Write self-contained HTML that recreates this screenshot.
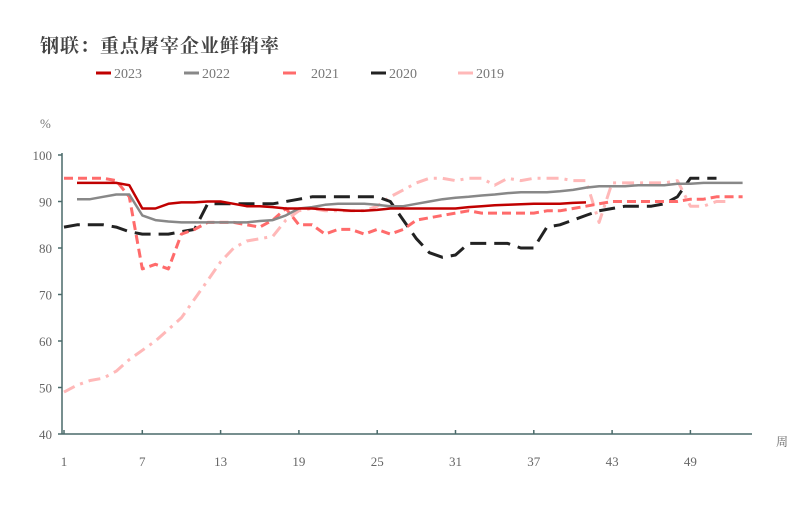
<!DOCTYPE html>
<html><head><meta charset="utf-8">
<style>
body{margin:0;background:#fff;width:800px;height:503px;overflow:hidden;font-family:"Liberation Serif","Noto Serif CJK SC",serif;}
svg text{font-family:"Liberation Serif","Noto Serif CJK SC",serif;}
</style></head><body>
<svg id="c" width="800" height="503" xmlns="http://www.w3.org/2000/svg">
<text x="40" y="52" font-size="19" font-weight="bold" fill="#444" font-family="Noto Serif CJK SC,serif" letter-spacing="1">钢联：重点屠宰企业鲜销率</text>
<g font-size="14" fill="#777">
<line x1="96" y1="73" x2="111" y2="73" stroke="#c00000" stroke-width="3"/><text x="114" y="78">2023</text>
<line x1="184" y1="73" x2="199" y2="73" stroke="#888" stroke-width="3"/><text x="202" y="78">2022</text>
<line x1="283" y1="73" x2="296" y2="73" stroke="#ff6b6b" stroke-width="3"/><text x="311" y="78">2021</text>
<line x1="371" y1="73" x2="386" y2="73" stroke="#222" stroke-width="3"/><text x="389" y="78">2020</text>
<line x1="458" y1="73" x2="473" y2="73" stroke="#ffb8b8" stroke-width="3"/><text x="476" y="78">2019</text>
</g>
<text x="40" y="128" font-size="13" fill="#777">%</text>
<g id="ax" stroke="#4a6a6a" stroke-width="1.5"></g>
<g id="lb" font-size="13" fill="#666"></g>
<g id="ln" fill="none"></g>
<text x="776" y="446" font-size="12" fill="#666" font-family="Noto Serif CJK SC,serif">周</text>
</svg>
<script>
const X=w=>64+(w-1)*13.05, Y=v=>155+(100-v)*4.65;
const ns="http://www.w3.org/2000/svg";
function el(p,t,a,txt){const e=document.createElementNS(ns,t);for(const k in a)e.setAttribute(k,a[k]);if(txt)e.textContent=txt;document.getElementById(p).appendChild(e);}
el("ax","line",{x1:62,y1:153,x2:62,y2:434});
el("ax","line",{x1:62,y1:434,x2:752,y2:434});
for(let v=40;v<=100;v+=10){el("ax","line",{x1:58,y1:Y(v),x2:62,y2:Y(v)});el("lb","text",{x:52,y:Y(v)+5,"text-anchor":"end"},""+v);}
for(let w=1;w<=53;w+=6){el("ax","line",{x1:X(w),y1:430,x2:X(w),y2:434});el("lb","text",{x:X(w),y:466,"text-anchor":"middle"},""+w);}
function s(start,d,col,wd,dash){let p="";d.forEach((v,i)=>{p+=(i?"L":"M")+X(start+i).toFixed(1)+","+Y(v).toFixed(1);});el("ln","path",{d:p,stroke:col,"stroke-width":wd,"stroke-dasharray":dash||"none","stroke-linejoin":"round"});}
s(1,[49,50.5,51.5,52,53.5,56,58,60,62.5,65,69,73,77,80,81.5,82,82.5,86,88,88.5,88,88,88,88,89,91,92.5,94,95,95,94.5,95,95,93.5,95,94.5,95,95,95,94.5,94.5,85.5,94,94,94,94,94,94.5,89,89,90,90],"#ffb8b8",3,"12,6,3,6");
s(1,[84.5,85,85,85,84.5,83.5,83,83,83,83.5,84,89.5,89.5,89.5,89.5,89.5,89.5,90,90.5,91,91,91,91,91,91,90,86,82,79,78,78.5,81,81,81,81,80,80,84.5,85,86,87,88,88.5,89,89,89,89.5,91,95,95,95],"#222",3,"16,8");
s(1,[95,95,95,95,94.5,91,75.5,76.5,75.5,83,84,85.5,85.5,85.5,85,84.5,86,88.5,85,85,83,84,84,83,84,83,84,86,86.5,87,87.5,88,87.5,87.5,87.5,87.5,87.5,88,88,88.5,89,89.5,90,90,90,90,90,90,90.5,90.5,91,91,91],"#ff6b6b",3,"9,5");
s(2,[90.5,90.5,91,91.5,91.5,87,86,85.7,85.5,85.5,85.5,85.5,85.5,85.5,85.8,86,87,88.5,88.8,89.3,89.5,89.5,89.5,89.3,89,89,89.5,90,90.5,90.8,91,91.3,91.5,91.8,92,92,92,92.2,92.5,93,93.3,93.3,93.3,93.5,93.5,93.5,93.8,93.8,94,94,94,94],"#888",2.5);
s(2,[94,94,94,94,93.5,88.5,88.5,89.5,89.8,89.8,90,90,89.5,89,89,88.8,88.5,88.5,88.5,88.3,88.2,88,88,88.2,88.5,88.5,88.5,88.5,88.5,88.5,88.8,89,89.2,89.3,89.4,89.5,89.5,89.5,89.7,89.8],"#c00000",2.5);
</script>
</body></html>
